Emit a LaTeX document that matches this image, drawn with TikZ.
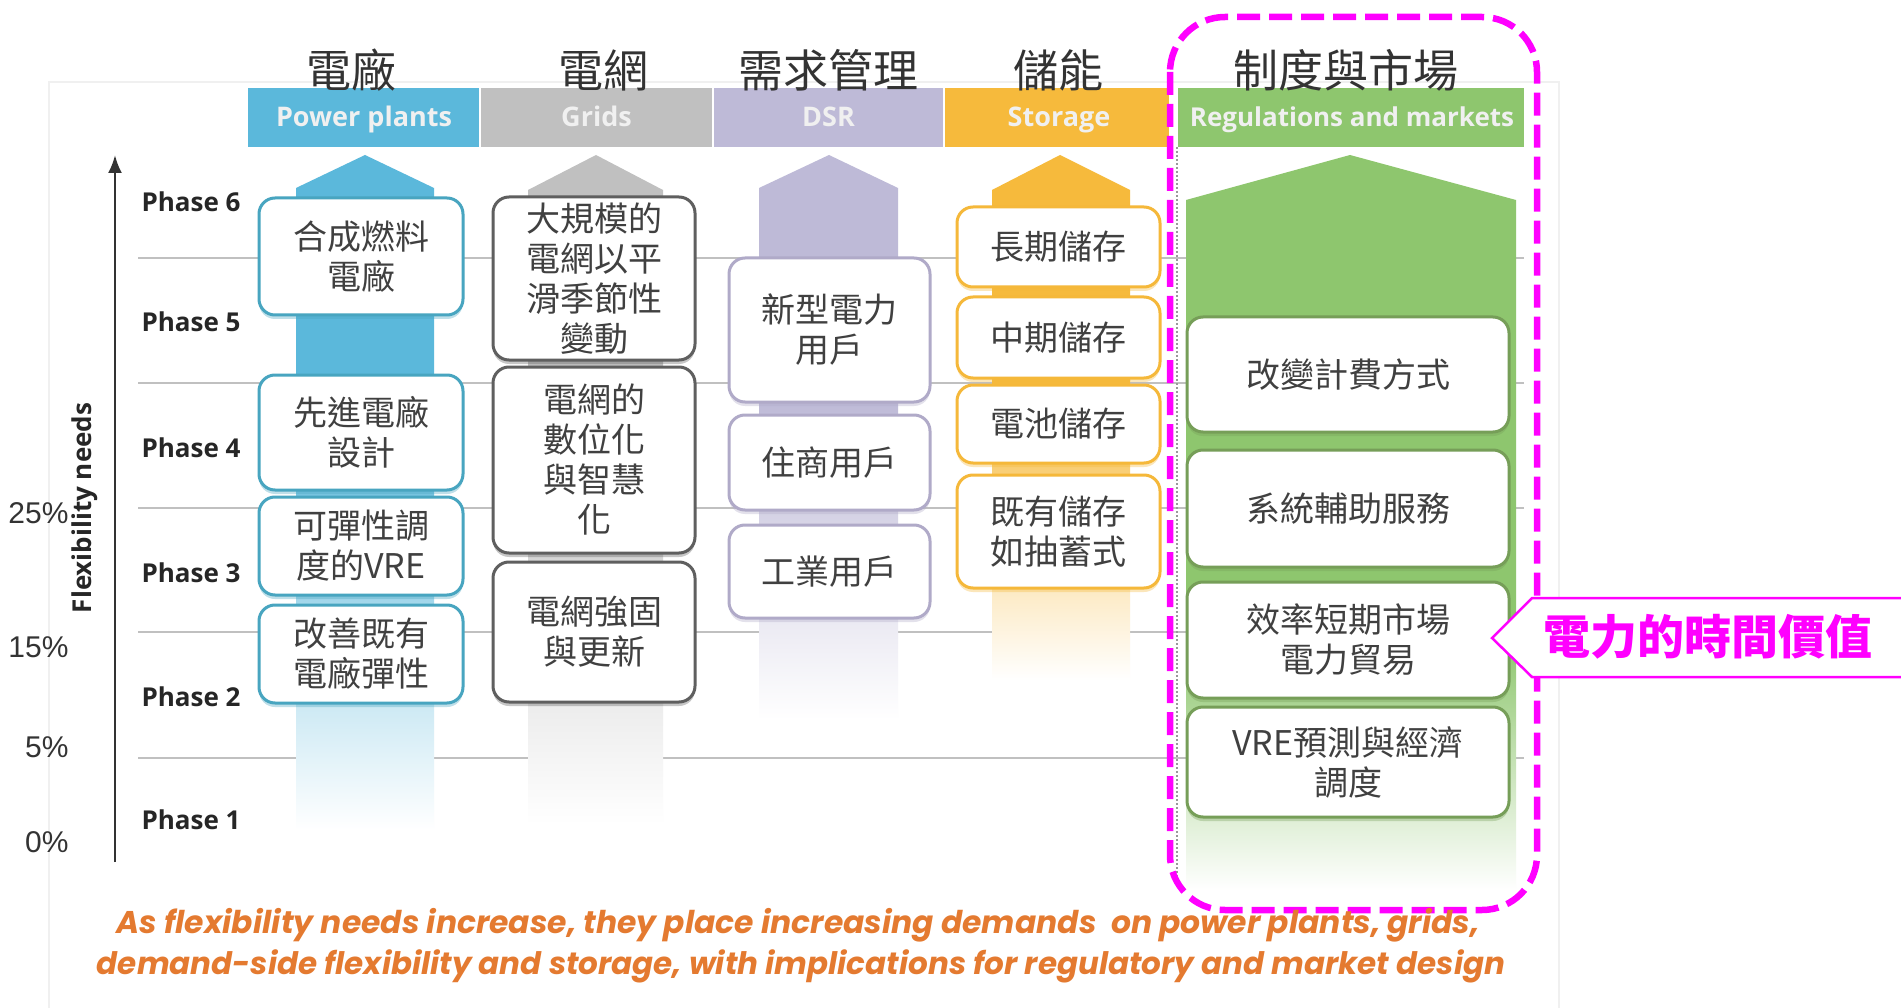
\documentclass[tikz,border=0pt]{standalone}
\usepackage{fontspec}
\usepackage{graphicx}
\setmainfont{Open Sans}
\newfontfamily\cjk{Noto Sans CJK TC}
\newfontfamily\lib{Liberation Sans}
\newfontfamily\pop{Poppins}
\usetikzlibrary{shadows,arrows.meta}
\definecolor{ppc}{RGB}{91,184,219}
\definecolor{grc}{RGB}{192,192,192}
\definecolor{dsc}{RGB}{190,186,215}
\definecolor{stc}{RGB}{246,186,60}
\definecolor{rgc}{RGB}{142,198,110}
\definecolor{ppb}{RGB}{72,165,192}
\definecolor{grb}{RGB}{95,95,95}
\definecolor{dsb}{RGB}{176,170,200}
\definecolor{stb}{RGB}{245,184,58}
\definecolor{rgbd}{RGB}{118,158,88}
\definecolor{txt}{RGB}{64,64,64}
\definecolor{mag}{RGB}{255,0,255}
\definecolor{capc}{RGB}{228,122,48}
\definecolor{linec}{RGB}{192,192,192}
\newcommand\fsz[2]{\fontsize{#1pt}{#2pt}\selectfont}
\newcommand\colarrow[8]{%
  \fill[#1] (#2,#7+1) -- (#2,#6) -- (#4,#5) -- (#3,#6) -- (#3,#7+1) -- cycle;
  \shade[top color=#1, middle color=#1!50!white, bottom color=white] (#2,#7) rectangle (#3,#8);}
\begin{document}
\begin{tikzpicture}[x=1pt,y=-1pt,
  bx/.style={rounded corners=16pt, fill=white, line width=3pt, align=center, inner sep=0pt, text=txt, font=\cjk\fsz{34}{40}},
  shd/.style={drop shadow={shadow xshift=0pt, shadow yshift=-4pt, opacity=0.35, fill=#1}},
  ppx/.style={bx, draw=ppb, minimum width=204pt, shd=ppb},
  grx/.style={bx, draw=grb, minimum width=202pt, shd=grb},
  dsx/.style={bx, draw=dsb, minimum width=201pt, shd=dsb},
  stx/.style={bx, draw=stb, minimum width=203pt, shd=stb},
  rgx/.style={bx, draw=rgbd, minimum width=322pt, shd=rgbd},
  hdr/.style={inner sep=0pt, minimum height=59pt, text height=19pt, text depth=6pt, text=white!94!black, font=\bfseries\fsz{27}{30}},
  hbar/.style={inner sep=0pt, minimum height=59pt},
  ttl/.style={text=black!80, font=\cjk\fsz{45}{50}},
  phase/.style={anchor=west, font=\bfseries\fsz{26}{28}, text=black!85},
  pct/.style={anchor=east, font=\lib\fsz{30}{32}, text=black!80}]
\useasboundingbox (0,0) rectangle (1901,1008);
\fill[white] (0,0) rectangle (1901,1008);
% faint panel
\draw[black!6, line width=1.5pt] (49,82) rectangle (1559,1012);
% phase lines
\foreach \yy in {258,383,508,632,758} \draw[linec, line width=2.5pt] (138,\yy) -- (1524,\yy);
% header bars
\node[hbar, fill=ppc, minimum width=231pt] (bpp) at (363.75,117.5) {};
\node[hbar, fill=grc, minimum width=231pt] (bgr) at (596.5,117.5) {};
\node[hbar, fill=dsc, minimum width=229pt] (bds) at (828.5,117.5) {};
\node[hbar, fill=stc, minimum width=224pt] (bst) at (1057,117.5) {};
\node[hbar, fill=rgc, minimum width=346pt] (brg) at (1351,117.5) {};
% header texts
\node[hdr] (hpp) at (364,120.5) {Power plants};
\node[hdr] (hgr) at (596.5,120.5) {Grids};
\node[hdr] (hds) at (828.5,120.5) {DSR};
\node[hdr] (hst) at (1059,120.5) {Storage};
\node[hdr, font=\bfseries\fsz{26}{30}] (hrg) at (1352,120.5) {Regulations and markets};
% titles
\node[ttl] (tpp) at (351,70) {電廠};
\node[ttl] (tgr) at (603,70) {電網};
\node[ttl] (tds) at (828,70) {需求管理};
\node[ttl] (tst) at (1058,70) {儲能};
\node[ttl] (trg) at (1346,70) {制度與市場};
% column arrows
\colarrow{ppc}{296}{434}{365}{155}{188}{420}{830}
\colarrow{grc}{528}{663}{596}{155}{190}{420}{825}
\colarrow{dsc}{759}{898}{829}{155}{188}{400}{720}
\colarrow{stc}{992}{1130}{1060}{155}{190}{380}{680}
\colarrow{rgc}{1186}{1516}{1350}{155}{200}{640}{890}
% dotted separator
\coordinate (dtop) at (1177,147);
\coordinate (dbot) at (1177,880);
\draw[black!40, line width=2pt, dash pattern=on 2pt off 2pt] (dtop) -- (dbot);
% axis
\coordinate (axb) at (115,862);
\coordinate (axt) at (115,155);
\draw[black!80, line width=2.5pt, -{Latex[length=18pt,width=14pt]}] (axb) -- (axt);
\node[rotate=90, font=\bfseries\fsz{26}{28}, text=black!85] (flex) at (85,508) {Flexibility needs};
\node[pct] (p25) at (72,513) {25\%};
\node[pct] (p15) at (72,647) {15\%};
\node[pct] (p5) at (72,747) {5\%};
\node[pct] (p0) at (72,842) {0\%};
\node[phase] (ph6) at (138,202) {Phase 6};
\node[phase] (ph5) at (138,322) {Phase 5};
\node[phase] (ph4) at (138,448) {Phase 4};
\node[phase] (ph3) at (138,573) {Phase 3};
\node[phase] (ph2) at (138,697) {Phase 2};
\node[phase] (ph1) at (138,820) {Phase 1};
% power plant boxes
\node[ppx, minimum height=117pt] (pp1) at (361,256.5) {合成燃料\\電廠};
\node[ppx, minimum height=115pt] (pp2) at (361,432.5) {先進電廠\\設計};
\node[ppx, minimum height=98pt] (pp3) at (361,546) {可彈性調\\度的VRE};
\node[ppx, minimum height=98pt] (pp4) at (361,654) {改善既有\\電廠彈性};
% grid boxes
\node[grx, minimum height=163pt] (g1) at (594,278.5) {大規模的\\電網以平\\滑季節性\\變動};
\node[grx, minimum height=186pt] (g2) at (594,460) {電網的\\數位化\\與智慧\\化};
\node[grx, minimum height=140pt] (g3) at (594,632) {電網強固\\與更新};
% DSR boxes
\node[dsx, minimum height=144pt] (d1) at (829.5,330) {新型電力\\用戶};
\node[dsx, minimum height=95pt] (d2) at (829.5,462.5) {住商用戶};
\node[dsx, minimum height=93pt] (d3) at (829.5,571.5) {工業用戶};
% storage boxes
\node[stx, minimum height=80pt] (s1) at (1058.5,247) {長期儲存};
\node[stx, minimum height=81pt] (s2) at (1058.5,337.5) {中期儲存};
\node[stx, minimum height=78pt] (s3) at (1058.5,424) {電池儲存};
\node[stx, minimum height=113pt] (s4) at (1058.5,531.5) {既有儲存\\如抽蓄式};
% regulation boxes
\node[rgx, minimum height=115pt] (r1) at (1348,374.5) {改變計費方式};
\node[rgx, minimum height=117pt] (r2) at (1348,508.5) {系統輔助服務};
\node[rgx, minimum height=116pt] (r3) at (1348,640) {效率短期市場\\電力貿易};
\node[rgx, minimum height=110pt] (r4) at (1348,762) {VRE預測與經濟\\調度};
% magenta dashed frame
\draw[mag, line width=6.5pt, dash pattern=on 23pt off 9pt, rounded corners=55pt] (1170,17) rectangle (1537,910);
% callout
\draw[mag, line width=2.5pt, fill=white] (1492,638) -- (1532,598) -- (1910,598) -- (1910,677) -- (1532,677) -- cycle;
\node[text=mag, font=\cjk\bfseries\fsz{47}{50}, anchor=west, inner sep=0pt] (call) at (1543,637) {電力的時間價值};
% caption
\node[text=capc, inner sep=0pt] (cap1) at (798,925) {\resizebox{1363pt}{!}{\pop\bfseries\itshape\fsz{26}{30}As flexibility needs increase, they place increasing demands\ \ on power plants, grids,}};
\node[text=capc, inner sep=0pt] (cap2) at (801,966) {\resizebox{1408pt}{!}{\pop\bfseries\itshape\fsz{26}{30}demand-side flexibility and storage, with implications for regulatory and market design}};
\end{tikzpicture}
\end{document}
